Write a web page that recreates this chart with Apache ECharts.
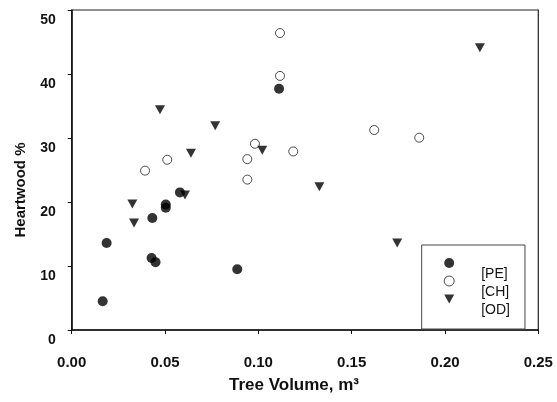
<!DOCTYPE html>
<html>
<head>
<meta charset="utf-8">
<script src="https://cdn.jsdelivr.net/npm/echarts@6/dist/echarts.min.js"></script>
<style>html,body{margin:0;padding:0;background:#fff}#c{width:557px;height:402px}</style>
</head>
<body>
<div id="c"></div>
<script>
// Tree volume (m3), heartwood (%)
const peVolume = [0.0166, 0.0187, 0.0432, 0.0504, 0.0504, 0.0428, 0.0449, 0.0887, 0.0580, 0.1111];
const peHeart  = [4.5, 13.6, 17.5, 19.6, 19.1, 11.25, 10.6, 9.5, 21.5, 37.7];
const chVolume = [0.0393, 0.0512, 0.0941, 0.0941, 0.0982, 0.1116, 0.1116, 0.1187, 0.1621, 0.1862];
const chHeart  = [24.9, 26.6, 26.7, 23.5, 29.1, 46.4, 39.7, 27.9, 31.25, 30.05];
const odVolume = [0.0473, 0.0769, 0.0639, 0.1021, 0.0325, 0.0334, 0.0607, 0.1327, 0.2187, 0.1744];
const odHeart  = [34.4, 31.9, 27.6, 28.1, 19.7, 16.7, 21.1, 22.4, 44.1, 13.6];
const seriesNames = ['[PE]', '[CH]', '[OD]'];
const xTicks = [0, 0.05, 0.10, 0.15, 0.20, 0.25];
const yTicks = [0, 10, 20, 30, 40, 50];

const zip = (a, b) => a.map((v, i) => [v, b[i]]);
const font = '"Liberation Sans", Arial, sans-serif';
const triPath = 'path://M0,0L10,0L5,9Z';

const chart = echarts.init(document.getElementById('c'));
chart.setOption({
  animation: false,
  backgroundColor: '#fff',
  grid: { left: 71.7, right: 18.7, top: 10, bottom: 72, show: true, borderColor: '#222', borderWidth: 1.2 },
  xAxis: {
    type: 'value', min: xTicks[0], max: xTicks[xTicks.length - 1], interval: 0.05,
    name: 'Tree Volume, m³', nameLocation: 'middle', nameGap: 47,
    nameTextStyle: { fontFamily: font, fontWeight: 'bold', fontSize: 17, color: '#111', padding: [0, 22, 0, 0] },
    axisLine: { lineStyle: { color: '#111', width: 1.5 } },
    axisTick: { inside: false, length: 4, lineStyle: { color: '#111' } },
    axisLabel: { margin: 25, fontFamily: font, fontWeight: 'bold', fontSize: 15, color: '#111',
      formatter: v => v.toFixed(2) },
    splitLine: { show: false }
  },
  yAxis: {
    type: 'value', min: yTicks[0], max: yTicks[yTicks.length - 1], interval: 10,
    name: 'Heartwood %', nameLocation: 'middle', nameGap: 43,
    nameTextStyle: { fontFamily: font, fontWeight: 'bold', fontSize: 15, color: '#111', padding: [0, 40, 0, 0] },
    axisLine: { lineStyle: { color: '#111', width: 1.5 } },
    axisTick: { inside: false, length: 4, lineStyle: { color: '#111' } },
    axisLabel: { margin: 16, fontFamily: font, fontWeight: 'bold', fontSize: 14, color: '#111',
      verticalAlign: 'top', padding: [3, 0, 0, 0] },
    splitLine: { show: false }
  },
  legend: {
    orient: 'vertical', left: 421.7, top: 245,
    data: [
      { name: seriesNames[0], icon: 'circle', itemStyle: { color: '#000' } },
      { name: seriesNames[1], icon: 'circle', itemStyle: { color: '#fff', borderColor: '#222', borderWidth: 1 } },
      { name: seriesNames[2], icon: triPath, itemStyle: { color: '#000' } }
    ],
    itemWidth: 10, itemHeight: 10, itemGap: -18,
    padding: [0, 15, 12, 22],
    borderColor: '#444', borderWidth: 1,
    formatter: n => '{t|' + n + '}',
    textStyle: {
      fontFamily: font, fontSize: 14, color: '#111',
      rich: { t: { fontFamily: font, fontSize: 14, color: '#111', lineHeight: 14, padding: [22, 0, 0, 22] } }
    }
  },
  series: [
    { name: seriesNames[0], type: 'scatter', data: zip(peVolume, peHeart), symbol: 'circle', symbolSize: 10,
      itemStyle: { color: '#000', borderColor: '#000', borderWidth: 0 } },
    { name: seriesNames[1], type: 'scatter', data: zip(chVolume, chHeart), symbol: 'circle', symbolSize: 9,
      itemStyle: { color: '#fff', borderColor: '#222', borderWidth: 1 } },
    { name: seriesNames[2], type: 'scatter', data: zip(odVolume, odHeart), symbol: 'triangle', symbolRotate: 180, symbolSize: [10, 9],
      itemStyle: { color: '#000', borderWidth: 0 } }
  ]
});
</script>
</body>
</html>
